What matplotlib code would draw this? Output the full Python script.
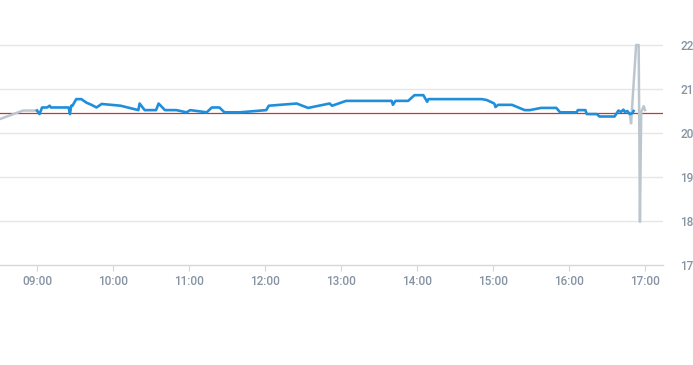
import matplotlib
matplotlib.use("Agg")
import matplotlib.pyplot as plt
import matplotlib.dates as mdates
import pandas as pd

DAY = "2024-01-02 "

pre_times = ["08:31", "08:49", "09:00"]
pre_values = [20.32, 20.51, 20.51]

main_times = ["09:00", "09:02", "09:04", "09:08", "09:10", "09:11", "09:25", "09:26",
              "09:27", "09:28", "09:31", "09:35", "09:39", "09:43", "09:47", "09:51",
              "10:06", "10:20", "10:21", "10:25", "10:34", "10:36", "10:41", "10:50",
              "10:58", "11:01", "11:14", "11:18", "11:24", "11:28", "11:40", "12:01",
              "12:03", "12:25", "12:34", "12:51", "12:53", "13:04", "13:40", "13:41",
              "13:43", "13:53", "13:58", "14:05", "14:08", "14:09", "14:51", "14:55",
              "15:01", "15:02", "15:04", "15:15", "15:25", "15:29", "15:38", "15:50",
              "15:53", "16:06", "16:07", "16:13", "16:14", "16:22", "16:24", "16:36",
              "16:39", "16:41", "16:43", "16:44", "16:46", "16:48", "16:50", "16:51"]
main_values = [20.51, 20.43, 20.58, 20.58, 20.62, 20.58, 20.58, 20.43,
               20.62, 20.62, 20.77, 20.77, 20.69, 20.64, 20.58, 20.66,
               20.62, 20.52, 20.67, 20.52, 20.52, 20.67, 20.52, 20.52,
               20.47, 20.52, 20.47, 20.58, 20.58, 20.47, 20.47, 20.52,
               20.62, 20.67, 20.57, 20.67, 20.62, 20.73, 20.73, 20.64,
               20.73, 20.73, 20.86, 20.86, 20.71, 20.77, 20.77, 20.75,
               20.67, 20.59, 20.64, 20.64, 20.52, 20.52, 20.57, 20.57,
               20.47, 20.47, 20.52, 20.52, 20.43, 20.43, 20.375, 20.375,
               20.51, 20.48, 20.53, 20.48, 20.50, 20.43, 20.45, 20.50]

post_times = ["16:48", "16:49", "16:53", "16:55", "16:56", "16:57", "16:59", "17:00"]
post_values = [20.43, 20.22, 22.0, 22.0, 17.98, 20.48, 20.61, 20.52]

reference_value = 20.45
y_ticks = [17, 18, 19, 20, 21, 22]
y_tick_labels = ["17", "18", "19", "20", "21", "22"]
x_tick_labels = ["09:00", "10:00", "11:00", "12:00", "13:00", "14:00", "15:00", "16:00", "17:00"]


def to_dt(ts):
    return pd.to_datetime([DAY + t for t in ts])


plt.rcParams['font.family'] = ['Roboto', 'DejaVu Sans']

fig = plt.figure(figsize=(6.93, 3.65), dpi=100)
W, H = 693, 365
ax = fig.add_axes([0, (H - 265) / H, 663 / W, (265 - 36.2) / H])

label_color = "#8593a3"
grid_color = "#e6e6e6"

ax.plot(to_dt(pre_times), pre_values, color="#bcc6cf", lw=1.8, solid_joinstyle="round", zorder=3)
ax.plot(to_dt(post_times), post_values, color="#bcc6cf", lw=1.8, solid_joinstyle="round", zorder=3)
ax.plot(to_dt(main_times), main_values, color="#1f8fdc", lw=1.9, solid_joinstyle="round", zorder=4)
ax.axhline(reference_value, color="#cc3333", lw=0.9, zorder=2)

ax.set_ylim(17, 22.2)
x0 = pd.Timestamp(DAY + "09:00") - pd.Timedelta(minutes=37 * 60 / 76)
x1 = pd.Timestamp(DAY + "09:00") + pd.Timedelta(minutes=(663 - 37) * 60 / 76)
ax.set_xlim(x0, x1)

ax.set_yticks(y_ticks)
ax.set_yticklabels(y_tick_labels)
for y in y_ticks[1:]:
    ax.axhline(y, color=grid_color, lw=1.0, zorder=1)

xt = to_dt(x_tick_labels)
ax.set_xticks(xt)
ax.set_xticklabels(x_tick_labels)

for s in ["top", "left", "right"]:
    ax.spines[s].set_visible(False)
ax.spines["bottom"].set_color("#d3d7db")
ax.spines["bottom"].set_linewidth(1.0)

ax.yaxis.tick_right()
ax.tick_params(axis="y", length=0, pad=12.5, labelsize=8.5, labelcolor=label_color)
ax.tick_params(axis="x", length=4, width=0.8, color="#d3d7db", pad=3.5, labelsize=8.5,
               labelcolor=label_color)
for lab in ax.get_xticklabels() + ax.get_yticklabels():
    lab.set_fontweight("medium")

fig.savefig("out.png", dpi=100, facecolor="white")
